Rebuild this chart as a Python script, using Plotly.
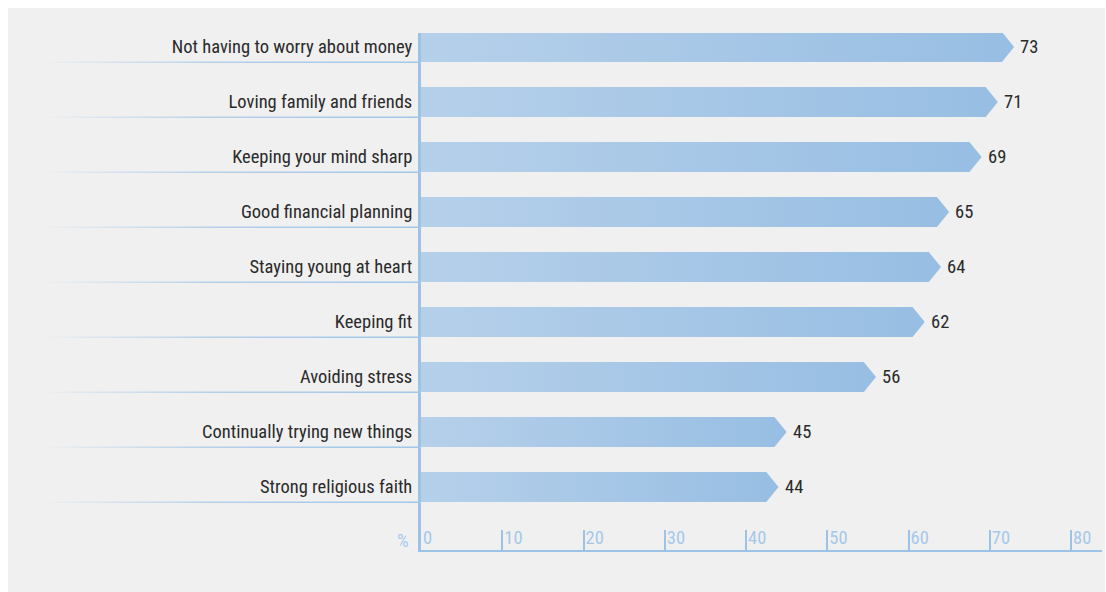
import plotly.graph_objects as go

# Survey answers, top to bottom, with the share of respondents (%)
categories = [
    "Not having to worry about money",
    "Loving family and friends",
    "Keeping your mind sharp",
    "Good financial planning",
    "Staying young at heart",
    "Keeping fit",
    "Avoiding stress",
    "Continually trying new things",
    "Strong religious faith",
]
values = [73, 71, 69, 65, 64, 62, 56, 45, 44]
tick_values = [0, 10, 20, 30, 40, 50, 60, 70, 80]

FONT = "Liberation Sans Narrow, Roboto Condensed, Roboto, sans-serif"
AXIS_BLUE = "#9cc2e6"
LABEL_BLUE = "#a6c8ea"
TEXT = "#2a2a2a"
BG = "#f0f0f0"
FS = 18.5

W, H = 1106, 592
HALF = 0.2727   # half bar thickness in row units
TIP = 1.5       # arrow point depth in % units

fig = go.Figure()

# Arrow-shaped bars with a left-to-right gradient
for i, (cat, v) in enumerate(zip(categories, values)):
    xs = [0, v - TIP, v, v - TIP, 0, 0]
    ys = [i - HALF, i - HALF, i, i + HALF, i + HALF, i - HALF]
    fig.add_trace(go.Scatter(
        x=xs, y=ys, mode="lines", fill="toself",
        line=dict(width=0, color="rgba(0,0,0,0)"),
        fillgradient=dict(type="horizontal",
                          colorscale=[[0, "#b6d0ea"], [1, "#97bee3"]]),
        hoverinfo="skip", showlegend=False, xaxis="x", yaxis="y",
    ))
    fig.add_annotation(
        x=v, y=i, text=str(v), showarrow=False, xanchor="left", yanchor="middle",
        xshift=4, font=dict(family=FONT, size=FS, color=TEXT),
    )

# Fading rule under each category label
for i in range(len(categories)):
    yb = i + HALF + 0.005
    fig.add_trace(go.Scatter(
        x=[0, 1, 1, 0, 0], y=[yb - 0.014, yb - 0.014, yb + 0.014, yb + 0.014, yb - 0.014],
        mode="lines", fill="toself", line=dict(width=0, color="rgba(0,0,0,0)"),
        fillgradient=dict(type="horizontal",
                          colorscale=[[0, "rgba(160,198,232,0)"], [0.45, "rgba(160,198,232,0.75)"],
                                      [1, "rgba(160,198,232,1)"]]),
        hoverinfo="skip", showlegend=False, xaxis="x2", yaxis="y",
    ))

x0_px, x1_px = 421, 1102
y_top_px, y_bot_px = 33, 550
row0_px, row_step = 47, 55

# "%" unit label left of the value axis
fig.add_annotation(
    x=(x0_px - 10) / W, y=1 - 541 / H, xref="paper", yref="paper", text="%",
    showarrow=False, xanchor="right", yanchor="middle",
    font=dict(family=FONT, size=FS, color=LABEL_BLUE),
)

px_per_unit = 81.25 / 10
fig.update_layout(
    width=W, height=H,
    margin=dict(l=0, r=0, t=0, b=0),
    paper_bgcolor="white", plot_bgcolor="rgba(0,0,0,0)",
    font=dict(family=FONT, size=FS, color=TEXT),
    shapes=[dict(type="rect", xref="paper", yref="paper", layer="below",
                 x0=8 / W, x1=1105 / W, y0=0, y1=1 - 8 / H,
                 fillcolor=BG, line=dict(width=0))],
    xaxis=dict(
        domain=[x0_px / W, x1_px / W],
        range=[0, (x1_px - x0_px) / px_per_unit],
        tickvals=tick_values, ticks="inside", ticklen=20, tickwidth=2,
        tickcolor=AXIS_BLUE, ticklabelposition="inside right",
        tickfont=dict(family=FONT, size=FS, color=LABEL_BLUE),
        showline=True, linecolor=AXIS_BLUE, linewidth=2,
        showgrid=False, zeroline=False, anchor="y", fixedrange=True,
    ),
    xaxis2=dict(
        domain=[40 / W, x0_px / W], range=[0, 1], visible=False,
        anchor="y", fixedrange=True,
    ),
    yaxis=dict(
        domain=[1 - y_bot_px / H, 1 - y_top_px / H],
        range=[(y_bot_px - row0_px) / row_step, (y_top_px - row0_px) / row_step],
        tickvals=list(range(len(categories))), ticktext=categories,
        ticks="", ticklabelstandoff=2,
        tickfont=dict(family=FONT, size=FS, color=TEXT),
        showline=True, linecolor=AXIS_BLUE, linewidth=3,
        showgrid=False, zeroline=False, anchor="x", fixedrange=True,
    ),
)

fig.write_html("out.html")
